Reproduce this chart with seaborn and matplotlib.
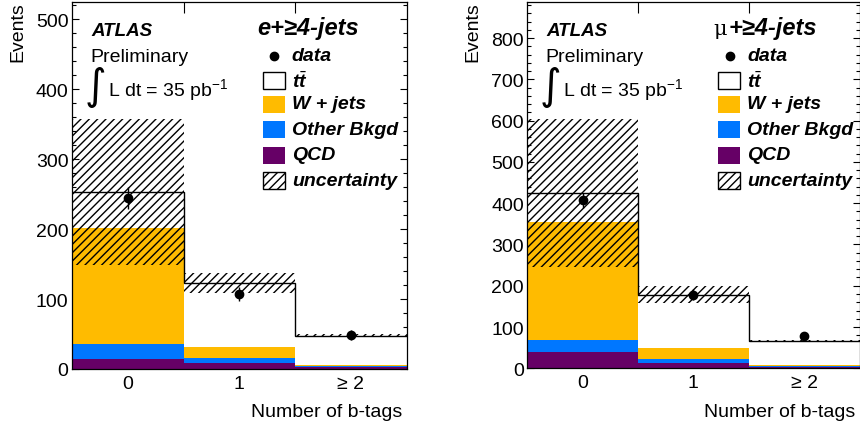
import numpy as np
import matplotlib
matplotlib.use("Agg")
import matplotlib.pyplot as plt
from matplotlib.patches import Rectangle
from matplotlib.lines import Line2D
from matplotlib.ticker import MultipleLocator
import seaborn as sns

# ---------------- data ----------------
categories = ["0", "1", "\u2265 2"]

# electron channel
e_qcd = [14.0, 8.5, 2.5]
e_other = [22.0, 7.0, 1.5]
e_wjets = [165.0, 15.5, 2.0]
e_ttbar = [52.0, 92.0, 41.5]
e_unc = [105.0, 14.5, 2.0]
e_data = [244.0, 107.0, 49.0]
e_data_err = [16.0, 10.0, 7.0]

# muon channel
m_qcd = [39.5, 12.0, 3.0]
m_other = [29.5, 10.5, 2.0]
m_wjets = [285.0, 26.0, 3.0]
m_ttbar = [71.0, 130.0, 58.0]
m_unc = [180.0, 21.0, 3.0]
m_data = [407.0, 178.0, 78.0]
m_data_err = [18.0, 13.0, 9.0]

legend_labels = ["data", r"$t\bar{t}$", "W + jets", "Other Bkgd", "QCD", "uncertainty"]

C_W = "#FFBB00"
C_OTHER = "#0077FF"
C_QCD = "#660066"

sns.set_theme(style="ticks")
plt.rcParams["font.family"] = ["Liberation Sans", "DejaVu Sans"]
plt.rcParams["mathtext.fontset"] = "custom"
plt.rcParams["mathtext.rm"] = "Liberation Sans"
plt.rcParams["mathtext.it"] = "Liberation Sans:italic:bold"
plt.rcParams["mathtext.bf"] = "Liberation Sans:bold"
plt.rcParams["hatch.linewidth"] = 1.0
plt.rcParams["hatch.color"] = "black"
plt.rcParams["axes.linewidth"] = 0.9
for k in ["text.color", "axes.labelcolor", "xtick.color", "ytick.color", "axes.edgecolor"]:
    plt.rcParams[k] = "black"

FIG_W, FIG_H = 860, 427
fig = plt.figure(figsize=(FIG_W / 100, FIG_H / 100), dpi=100)


def draw_panel(rect_px, qcd, other, wjets, ttbar, unc, data, derr, ymax, ymajor, channel, mu):
    x0, top, x1, bottom = rect_px
    w = x1 - x0
    h = bottom - top
    ax = fig.add_axes([x0 / FIG_W, 1 - bottom / FIG_H, w / FIG_W, h / FIG_H])

    def P(dx, dy):
        return (dx / w, 1 - dy / h)

    qcd = np.array(qcd); other = np.array(other); wjets = np.array(wjets)
    ttbar = np.array(ttbar); unc = np.array(unc)
    c_qcd = qcd
    c_other = c_qcd + other
    c_w = c_other + wjets
    c_tt = c_w + ttbar

    for vals, col in [(c_tt, "white"), (c_w, C_W), (c_other, C_OTHER), (c_qcd, C_QCD)]:
        sns.barplot(x=categories, y=vals, order=categories, color=col, width=1.0,
                    saturation=1, errorbar=None, ax=ax, linewidth=0, edgecolor="none")

    xs = np.arange(len(categories))
    ax.bar(xs, 2 * unc, bottom=c_tt - unc, width=1.0, fill=False, hatch="////",
           edgecolor="black", linewidth=0, zorder=3)
    edges = np.arange(len(categories) + 1) - 0.5
    ax.stairs(c_tt, edges, baseline=None, color="black", lw=1.0, zorder=4)
    ax.errorbar(xs, data, yerr=derr, fmt="o", color="black", ms=6, capsize=0,
                elinewidth=1.0, zorder=5)

    ax.set_xlim(-0.5, 2.5)
    ax.set_ylim(0, ymax)
    ax.set_xlabel("")
    ax.set_ylabel("")
    ax.yaxis.set_major_locator(MultipleLocator(ymajor))
    ax.yaxis.set_minor_locator(MultipleLocator(20))
    ax.tick_params(axis="y", which="both", direction="in", left=True, right=True,
                   labelsize=14, width=0.8, pad=2.5)
    ax.tick_params(axis="y", which="major", length=5)
    ax.tick_params(axis="y", which="minor", length=2.6)
    ax.set_xticks(edges[1:-1], minor=True)
    ax.tick_params(axis="x", which="minor", direction="in", top=True, bottom=True,
                   length=8, width=0.8)
    ax.tick_params(axis="x", which="major", length=0, labelsize=14, pad=4)
    for s in ax.spines.values():
        s.set_visible(True)
        s.set_color("black")
        s.set_zorder(10)

    # ATLAS text
    ax.text(*P(19, 33.3), "ATLAS", transform=ax.transAxes, fontsize=13.5,
            fontweight="bold", style="italic", va="baseline", ha="left")
    ax.text(*P(18.5, 59), "Preliminary", transform=ax.transAxes, fontsize=14,
            va="baseline", ha="left")
    ax.text(*P(23.5, 84), "\u222b", transform=ax.transAxes, fontsize=30,
            va="center", ha="center", family="DejaVu Sans")
    ax.text(*P(35.7, 93.3), r"L dt = 35 pb$^{\mathrm{-1}}$", transform=ax.transAxes,
            fontsize=14, va="baseline", ha="left")

    # channel title
    if mu:
        ax.text(*P(186.0, 32.3), "\u03bc", transform=ax.transAxes, fontsize=15,
                va="baseline", ha="left", family="DejaVu Serif")
        ax.text(*P(201.0, 32.3), "+\u22654-jets", transform=ax.transAxes, fontsize=17,
                fontweight="bold", style="italic", va="baseline", ha="left")
    else:
        ax.text(*P(185.7, 32.3), channel, transform=ax.transAxes, fontsize=17,
                fontweight="bold", style="italic", va="baseline", ha="left")

    # legend
    rows = [54, 79, 102.3, 128, 153.3, 179]
    bx, bw, bh = 191, 22, 17
    for lab, dy in zip(legend_labels, rows):
        ax.text(*P(219.7, dy), lab, transform=ax.transAxes, fontsize=14,
                fontweight="bold", style="italic", va="center", ha="left")
    ax.add_line(Line2D([202.3 / w], [1 - rows[0] / h], marker="o", color="black",
                       ms=6, transform=ax.transAxes, clip_on=False))
    styles = [dict(facecolor="white", edgecolor="black", lw=1.0),
              dict(facecolor=C_W, edgecolor="none", lw=0),
              dict(facecolor=C_OTHER, edgecolor="none", lw=0),
              dict(facecolor=C_QCD, edgecolor="none", lw=0),
              dict(facecolor="white", edgecolor="black", lw=1.0, hatch="////")]
    for st, dy in zip(styles, rows[1:]):
        ax.add_patch(Rectangle(P(bx, dy + bh / 2), bw / w, bh / h,
                               transform=ax.transAxes, clip_on=False, zorder=6, **st))

    # axis titles
    fig.text((x1 - 4) / FIG_W, 1 - 413 / FIG_H, "Number of b-tags", fontsize=14,
             ha="right", va="center")
    fig.text((x0 - 54) / FIG_W, 1 - top / FIG_H, "Events", fontsize=14,
             rotation=90, ha="center", va="top")
    return ax


draw_panel((72, 2.7, 406.7, 370), e_qcd, e_other, e_wjets, e_ttbar, e_unc, e_data,
           e_data_err, 525, 100, "e+\u22654-jets", False)
draw_panel((527.3, 2.7, 859.5, 369.3), m_qcd, m_other, m_wjets, m_ttbar, m_unc, m_data,
           m_data_err, 888, 100, "\u03bc+\u22654-jets", True)

fig.savefig("out.png", dpi=100)
